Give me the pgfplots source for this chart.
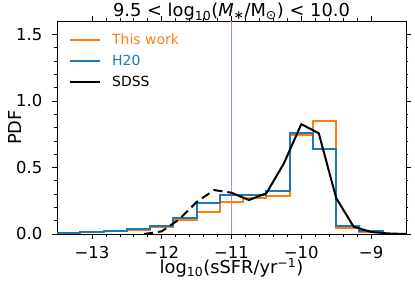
\documentclass[border=0pt]{standalone}
\usepackage{pgfplots}
\pgfplotsset{compat=1.18}
\usepackage{fontspec}
\setmainfont{DejaVu Sans}
\definecolor{mplorange}{HTML}{FF7F0E}
\definecolor{mplblue}{HTML}{1F77B4}
\definecolor{mplpink}{RGB}{227,119,194}
\newcommand{\ff}{\fontsize{16.5}{19}\selectfont}
\newcommand{\labf}{\fontsize{17.9}{21}\selectfont}
\newcommand{\lf}{\fontsize{14}{17}\selectfont}
\begin{document}
\begin{tikzpicture}[font=\ff]
\begin{axis}[
  scale only axis, width=349bp, height=213bp,
  at={(0,0)}, anchor=south west,
  xmin=-13.5, xmax=-8.5, ymin=0, ymax=1.6,
  axis line style={line width=0.6bp},
  tick style={line width=0.6bp, black},
  tick align=outside,
  major tick length=5bp, minor tick length=2.5bp,
  xtick={-13,-12,-11,-10,-9},
  xticklabels={−13,−12,−11,−10,−9},
  ytick={0,0.5,1,1.5},
  yticklabels={0.0,0.5,1.0,1.5},
  minor x tick num=4, minor y tick num=4,
  tick label style={font=\ff},
  xticklabel style={anchor=base, inner sep=0pt, yshift=-19.2bp},
  yticklabel style={anchor=east, inner sep=0pt, xshift=-9.5bp},
  every axis title/.style={at={(axis description cs:0.5,1.0188)}, anchor=base, inner sep=0pt, font=\labf},
  title={9.5 < log\textsubscript{10}(\textit{M}\textsubscript{∗}/M\textsubscript{⊙}) < 10.0},
  xlabel={log\textsubscript{10}(sSFR/yr\textsuperscript{−1})},
  xlabel style={at={(axis description cs:0.5,-0.186)}, anchor=base, inner sep=0pt, font=\labf},
  ylabel={PDF},
  ylabel style={at={(axis description cs:-0.1017,0.5)}, anchor=base, inner sep=0pt, font=\labf},
  legend image code/.code={\draw[#1] (0bp,0bp) -- (30bp,0bp);},
  legend cell align=left,
  legend style={at={(axis description cs:0.0344,0.9506)}, anchor=north west,
    draw=none, fill=none, inner sep=0pt, row sep=5.3bp,
    font=\lf,
    nodes={inner sep=2bp},
    /tikz/every odd column/.append style={column sep=9bp}},
]
\addplot[color=mplpink, line width=1.5bp, forget plot] coordinates {(-11,0) (-11,1.6)};
\addplot[mplorange, line width=2bp, const plot mark left] coordinates {
(-13.5,0.008) (-13.1667,0.014) (-12.8333,0.022) (-12.5,0.032) (-12.1667,0.050)
(-11.8333,0.105) (-11.5,0.163) (-11.1667,0.240) (-10.8333,0.270) (-10.5,0.283)
(-10.1667,0.740) (-9.8333,0.850) (-9.5,0.042) (-9.1667,0.012) (-8.8333,0.0) (-8.5,0.0)};
\addlegendentry[text=mplorange]{This work}
\addplot[mplblue, line width=2bp, const plot mark left] coordinates {
(-13.5,0.010) (-13.1667,0.017) (-12.8333,0.025) (-12.5,0.035) (-12.1667,0.062)
(-11.8333,0.123) (-11.5,0.233) (-11.1667,0.295) (-10.8333,0.290) (-10.5,0.325)
(-10.1667,0.757) (-9.8333,0.640) (-9.5,0.062) (-9.1667,0.022) (-8.8333,0.003) (-8.5,0.003)};
\addlegendentry[text=mplblue]{H20}
\addplot[black, line width=2bp, dash pattern=on 9bp off 5bp, forget plot] coordinates {
(-12.25,0.0) (-12.0,0.02) (-11.75,0.11) (-11.5,0.24) (-11.25,0.33) (-11.0,0.31)};
\addplot[black, line width=2bp] coordinates {
(-11.0,0.31) (-10.75,0.255) (-10.5,0.306) (-10.25,0.53) (-10.0,0.825) (-9.75,0.757)
(-9.5,0.27) (-9.25,0.055) (-9.0,0.015) (-8.75,0.004) (-8.5,0.0)};
\addlegendentry[text=black]{SDSS}
\end{axis}
\pgfresetboundingbox
\useasboundingbox (-57bp,-50bp) rectangle (358bp,234bp);
\end{tikzpicture}
\end{document}
